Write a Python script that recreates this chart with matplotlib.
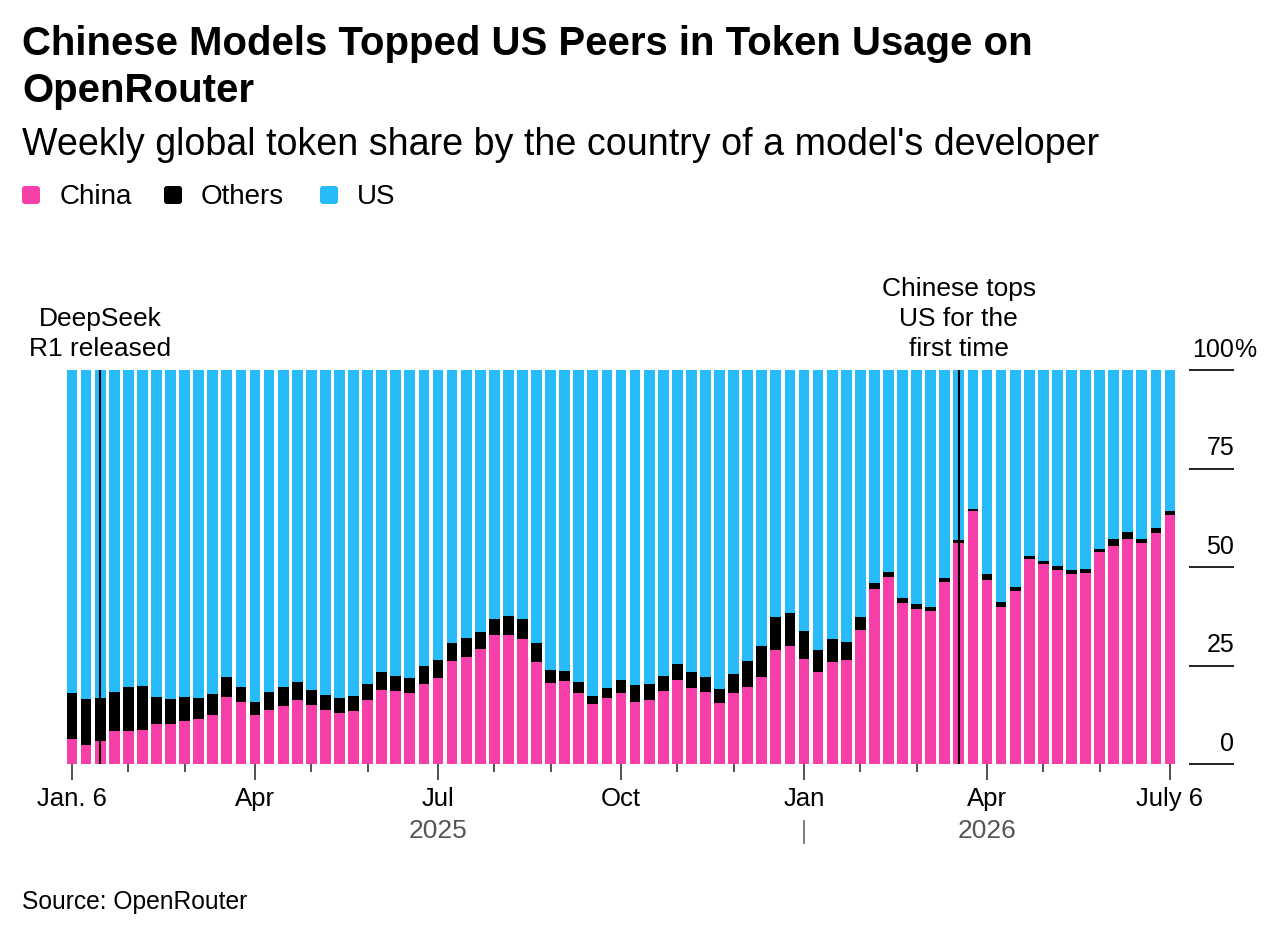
import matplotlib
matplotlib.use('Agg')
import matplotlib.pyplot as plt
import matplotlib.transforms as mtransforms
from matplotlib.patches import FancyBboxPatch
import numpy as np
import pandas as pd

plt.rcParams['font.family'] = ['Liberation Sans', 'DejaVu Sans']

# ---------------- data ----------------
weeks = pd.date_range('2025-01-06', periods=79, freq='7D')

china = [6.3, 4.7, 5.9, 8.4, 8.4, 8.7, 10.2, 10.2, 10.9, 11.4,
         12.4, 16.9, 15.8, 12.4, 13.8, 14.7, 16.3, 14.9, 13.6, 13.0,
         13.5, 16.3, 18.8, 18.5, 18.0, 20.4, 21.9, 26.2, 27.1, 29.3,
         32.8, 32.8, 31.7, 26.0, 20.6, 21.0, 17.9, 15.2, 16.7, 17.9,
         15.7, 16.3, 18.5, 21.3, 19.4, 18.2, 15.4, 18.0, 19.5, 22.2,
         28.9, 29.9, 26.7, 23.4, 25.9, 26.4, 34.0, 44.4, 47.4, 40.8,
         39.4, 38.8, 46.2, 56.0, 64.1, 46.8, 39.9, 44.0, 52.0, 50.7,
         49.3, 48.2, 48.5, 53.8, 55.3, 57.0, 56.2, 58.7, 63.1]

others = [11.8, 11.7, 10.9, 10.0, 11.2, 11.0, 6.8, 6.4, 6.1, 5.3,
          5.3, 5.2, 3.8, 3.3, 4.5, 4.8, 4.5, 3.9, 3.8, 3.8,
          3.8, 4.0, 4.6, 3.9, 3.9, 4.6, 4.5, 4.6, 4.8, 4.1,
          4.0, 4.8, 5.1, 4.7, 3.3, 2.7, 2.8, 2.1, 2.5, 3.5,
          4.4, 4.1, 3.9, 4.0, 4.0, 3.8, 3.7, 4.9, 6.6, 7.7,
          8.3, 8.3, 7.0, 5.6, 5.8, 4.5, 3.2, 1.6, 1.4, 1.4,
          1.2, 1.0, 0.9, 0.9, 0.7, 1.3, 1.2, 1.0, 0.9, 0.9,
          1.0, 1.1, 0.9, 0.8, 1.7, 1.9, 1.0, 1.2, 1.0]

us = [81.9, 83.6, 83.2, 81.6, 80.4, 80.3, 83.0, 83.4, 83.0, 83.3,
      82.3, 77.9, 80.4, 84.3, 81.7, 80.5, 79.2, 81.2, 82.6, 83.2,
      82.7, 79.7, 76.6, 77.6, 78.1, 75.0, 73.6, 69.2, 68.1, 66.6,
      63.2, 62.4, 63.2, 69.3, 76.1, 76.3, 79.3, 82.7, 80.8, 78.6,
      79.9, 79.6, 77.6, 74.7, 76.6, 78.0, 80.9, 77.1, 73.9, 70.1,
      62.8, 61.8, 66.3, 71.0, 68.3, 69.1, 62.8, 54.0, 51.2, 57.8,
      59.4, 60.2, 52.9, 43.1, 35.2, 51.9, 58.9, 55.0, 47.1, 48.4,
      49.7, 50.7, 50.6, 45.4, 43.0, 41.1, 42.8, 40.1, 35.9]

series_names = ['China', 'Others', 'US']
series_colors = ['#F73FA9', '#000000', '#28BBF9']

major_tick_dates = ['2025-01-06', '2025-04-07', '2025-07-07', '2025-10-06',
                    '2026-01-05', '2026-04-06', '2026-07-06']
major_tick_labels = ['Jan. 6', 'Apr', 'Jul', 'Oct', 'Jan', 'Apr', 'July 6']
minor_tick_dates = ['2025-02-03', '2025-03-03', '2025-05-05', '2025-06-02',
                    '2025-08-04', '2025-09-01', '2025-11-03', '2025-12-01',
                    '2026-02-02', '2026-03-02', '2026-05-04', '2026-06-01']
year_labels = ['2025', '2026']
year_label_dates = ['2025-07-07', '2026-04-06']
year_sep_date = '2026-01-05'

y_ticks = [0, 25, 50, 75, 100]
y_tick_labels = ['0', '25', '50', '75', '100']

event_dates = ['2025-01-20', '2026-03-23']
event_labels = ['DeepSeek\nR1 released', 'Chinese tops\nUS for the\nfirst time']

title_lines = ['Chinese Models Topped US Peers in Token Usage on', 'OpenRouter']
subtitle = "Weekly global token share by the country of a model's developer"
source = 'Source: OpenRouter'


def week_index(d):
    return int((pd.Timestamp(d) - weeks[0]).days // 7)


# ---------------- layout ----------------
W, H, DPI = 1284, 948, 100
fig = plt.figure(figsize=(W / DPI, H / DPI), dpi=DPI)
fig.patch.set_facecolor('white')

step = (1170 - 72) / 78.0            # px per week
ax_left, ax_right, ax_top, ax_bot = 60, 1234, 370, 764
ax = fig.add_axes([ax_left / W, 1 - ax_bot / H, (ax_right - ax_left) / W, (ax_bot - ax_top) / H])
ax.set_xlim((ax_left - 72) / step, (ax_right - 72) / step)
ax.set_ylim(0, 100)
for sp in ax.spines.values():
    sp.set_visible(False)

x = np.arange(len(weeks))
bottom = np.zeros(len(weeks))
for name, vals, col in zip(series_names, [china, others, us], series_colors):
    ax.bar(x, vals, bottom=bottom, width=0.76, color=col, linewidth=0, zorder=2, label=name)
    bottom = bottom + np.array(vals)

# event lines and labels
for d, lab in zip(event_dates, event_labels):
    i = week_index(d)
    ax.vlines(i, 0, 100, color='black', lw=1.5, zorder=4)
    ax.annotate(lab, xy=(i, 100), xytext=(0, 6.5), textcoords='offset points',
                ha='center', va='bottom', fontsize=19, linespacing=1.32,
                multialignment='center', annotation_clip=False)

# x ticks
ax.set_xticks([week_index(d) for d in major_tick_dates])
ax.set_xticklabels(major_tick_labels, fontsize=18.5)
ax.set_xticks([week_index(d) for d in minor_tick_dates], minor=True)
ax.tick_params(axis='x', which='major', length=11.5, width=1.1, color='#222', pad=5)
ax.tick_params(axis='x', which='minor', length=6, width=1.1, color='#222')
ax.tick_params(axis='y', left=False, labelleft=False)

# right-side y axis ticks
xa = (1189 - 72) / step
xb = (1234 - 72) / step
for v, lab in zip(y_ticks, y_tick_labels):
    ax.plot([xa, xb], [v, v], color='#111', lw=1.3, clip_on=False, solid_capstyle='butt')
    ax.annotate(lab, xy=(xb, v), xytext=(0, 9.5), textcoords='offset points',
                ha='right', va='baseline', fontsize=18, annotation_clip=False)
    if v == y_ticks[-1]:
        ax.annotate('%', xy=(xb, v), xytext=(0, 9.5), textcoords='offset points',
                    ha='left', va='baseline', fontsize=18, annotation_clip=False)

# year labels
blend = mtransforms.blended_transform_factory(ax.transData, fig.transFigure)
for lab, d in zip(year_labels, year_label_dates):
    ax.text(week_index(d), 1 - 838 / H, lab, transform=blend, ha='center', va='baseline',
            fontsize=19, color='#555555')
js = week_index(year_sep_date)
ax.plot([js, js], [1 - 821 / H, 1 - 843 / H], transform=blend, color='#666666', lw=1.2, clip_on=False)

# ---------------- texts ----------------
fig.canvas.draw()
renderer = fig.canvas.get_renderer()


def fit_text(txt, xpx, ybase, width, size0, **kw):
    t = fig.text(xpx / W, 1 - ybase / H, txt, fontsize=size0, va='baseline', ha='left', **kw)
    bb = t.get_window_extent(renderer=renderer)
    t.set_fontsize(size0 * width / bb.width)
    return t


t1 = fit_text(title_lines[0], 22, 55, 1010, 26, fontweight='bold')
fig.text(22 / W, 1 - 102 / H, title_lines[1], fontsize=t1.get_fontsize(), fontweight='bold',
         va='baseline', ha='left')
fit_text(subtitle, 22, 155, 1070, 22)
fit_text(source, 22, 909, 226, 16)

# legend
leg_sq_x = [22, 164, 320]
leg_tx_x = [60, 201, 357]
for name, col, sx, tx in zip(series_names, series_colors, leg_sq_x, leg_tx_x):
    p = FancyBboxPatch((sx, H - 204), 18, 18, boxstyle='round,pad=0,rounding_size=3',
                       transform=mtransforms.IdentityTransform(), facecolor=col, edgecolor='none')
    fig.add_artist(p)
    fig.text(tx / W, 1 - 204 / H, name, fontsize=20, va='baseline', ha='left')

fig.savefig('out.png', dpi=DPI, facecolor='white')
